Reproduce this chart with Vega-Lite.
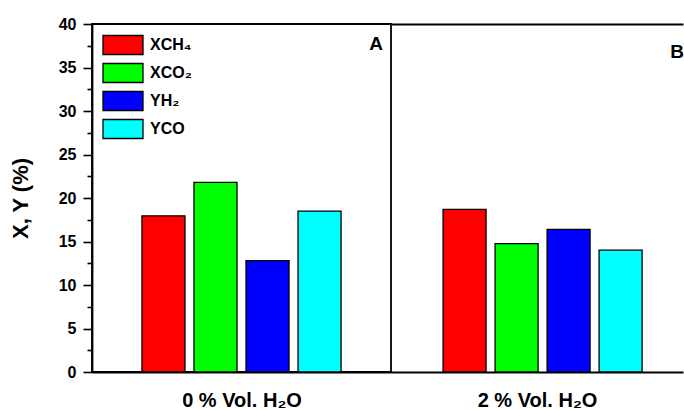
{
  "$schema": "https://vega.github.io/schema/vega-lite/v6.json",
  "background": "white",
  "padding": {"left": 8, "top": 15, "right": 0, "bottom": 0},
  "bounds": "flush",
  "spacing": 0,
  "config": {
    "font": "Liberation Sans",
    "view": {"stroke": null},
    "axis": {
      "domainColor": "black", "domainWidth": 1.8,
      "tickColor": "black", "tickWidth": 1.6,
      "labelFont": "Liberation Sans", "labelFontWeight": "bold", "labelColor": "black",
      "titleFont": "Liberation Sans", "titleFontWeight": "bold", "titleColor": "black",
      "grid": false
    }
  },
  "data": {"values": [
    {"cond": "A", "series": "XCH₄", "value": 17.95},
    {"cond": "A", "series": "XCO₂", "value": 21.8},
    {"cond": "A", "series": "YH₂", "value": 12.8},
    {"cond": "A", "series": "YCO", "value": 18.5},
    {"cond": "B", "series": "XCH₄", "value": 18.7},
    {"cond": "B", "series": "XCO₂", "value": 14.75},
    {"cond": "B", "series": "YH₂", "value": 16.4},
    {"cond": "B", "series": "YCO", "value": 14.0}
  ]},
  "resolve": {"legend": {"color": "independent"}},
  "hconcat": [
    {
      "width": 299, "height": 348,
      "view": {"stroke": "black", "strokeWidth": 1.8},
      "title": {"text": "A", "anchor": "end", "orient": "top", "frame": "group", "offset": -38, "dx": -8, "fontSize": 19, "fontWeight": "bold", "color": "black", "font": "Liberation Sans"},
      "transform": [{"filter": "datum.cond === 'A'"}],
      "mark": {"type": "bar", "stroke": "black", "strokeWidth": 1.3},
      "encoding": {
        "x": {"field": "series", "type": "nominal", "sort": ["XCH₄", "XCO₂", "YH₂", "YCO"],
          "scale": {"paddingInner": 0.173, "paddingOuter": 0.96},
          "axis": {"orient": "bottom", "title": "0 % Vol. H₂O", "labels": false, "ticks": false, "titleFontSize": 20, "titlePadding": 18}},
        "y": {"field": "value", "type": "quantitative",
          "scale": {"domain": [0, 40], "nice": false},
          "axis": {"values": [0, 2.5, 5, 7.5, 10, 12.5, 15, 17.5, 20, 22.5, 25, 27.5, 30, 32.5, 35, 37.5, 40],
            "labelExpr": "datum.value % 5 === 0 ? datum.label : ''",
            "tickSize": {"condition": {"test": "datum.value % 5 === 0", "value": 9}, "value": 5},
            "labelPadding": 7, "labelFontSize": 16,
            "title": "X, Y (%)", "titleFontSize": 22, "titlePadding": 26}},
        "color": {"field": "series", "type": "nominal", "sort": ["XCH₄", "XCO₂", "YH₂", "YCO"],
          "scale": {"domain": ["XCH₄", "XCO₂", "YH₂", "YCO"], "range": ["#ff0000", "#00ff00", "#0000ff", "#00ffff"]},
          "legend": {"orient": "top-left", "offset": 10, "padding": 0, "title": null,
            "symbolType": "M-1,-0.95H3V0.95H-1Z", "symbolSize": 400,
            "symbolStrokeColor": "black", "symbolStrokeWidth": 1.3, "symbolOpacity": 1,
            "labelFontSize": 16, "labelFontWeight": "bold", "labelFont": "Liberation Sans", "labelColor": "black",
            "labelOffset": 26, "rowPadding": 2}}
      }
    },
    {
      "width": 292, "height": 348,
      "title": {"text": "B", "anchor": "end", "orient": "top", "frame": "group", "offset": -38, "dx": 1, "fontSize": 19, "fontWeight": "bold", "color": "black", "font": "Liberation Sans"},
      "transform": [{"filter": "datum.cond === 'B'"}],
      "layer": [
        {
          "mark": {"type": "bar", "stroke": "black", "strokeWidth": 1.3},
          "encoding": {
            "x": {"field": "series", "type": "nominal", "sort": ["XCH₄", "XCO₂", "YH₂", "YCO"],
              "scale": {"paddingInner": 0.173, "paddingOuter": 0.894, "align": 0.56},
              "axis": {"orient": "bottom", "title": "2 % Vol. H₂O", "labels": false, "ticks": false, "titleFontSize": 20, "titlePadding": 18}},
            "y": {"field": "value", "type": "quantitative",
              "scale": {"domain": [0, 40], "nice": false},
              "axis": {"values": [0, 2.5, 5, 7.5, 10, 12.5, 15, 17.5, 20, 22.5, 25, 27.5, 30, 32.5, 35, 37.5, 40],
                "labels": false,
                "tickSize": {"condition": {"test": "datum.value % 5 === 0", "value": 9}, "value": 5},
                "title": null}},
            "color": {"field": "series", "type": "nominal", "sort": ["XCH₄", "XCO₂", "YH₂", "YCO"],
              "scale": {"domain": ["XCH₄", "XCO₂", "YH₂", "YCO"], "range": ["#ff0000", "#00ff00", "#0000ff", "#00ffff"]},
              "legend": null}
          }
        },
        {
          "mark": {"type": "bar", "opacity": 0},
          "encoding": {
            "x": {"field": "series", "type": "nominal", "sort": ["XCH₄", "XCO₂", "YH₂", "YCO"],
              "axis": {"orient": "top", "title": null, "labels": false, "ticks": false}},
            "y": {"field": "value", "type": "quantitative", "axis": null}
          }
        }
      ],
      "resolve": {"axis": {"x": "independent"}}
    }
  ]
}
